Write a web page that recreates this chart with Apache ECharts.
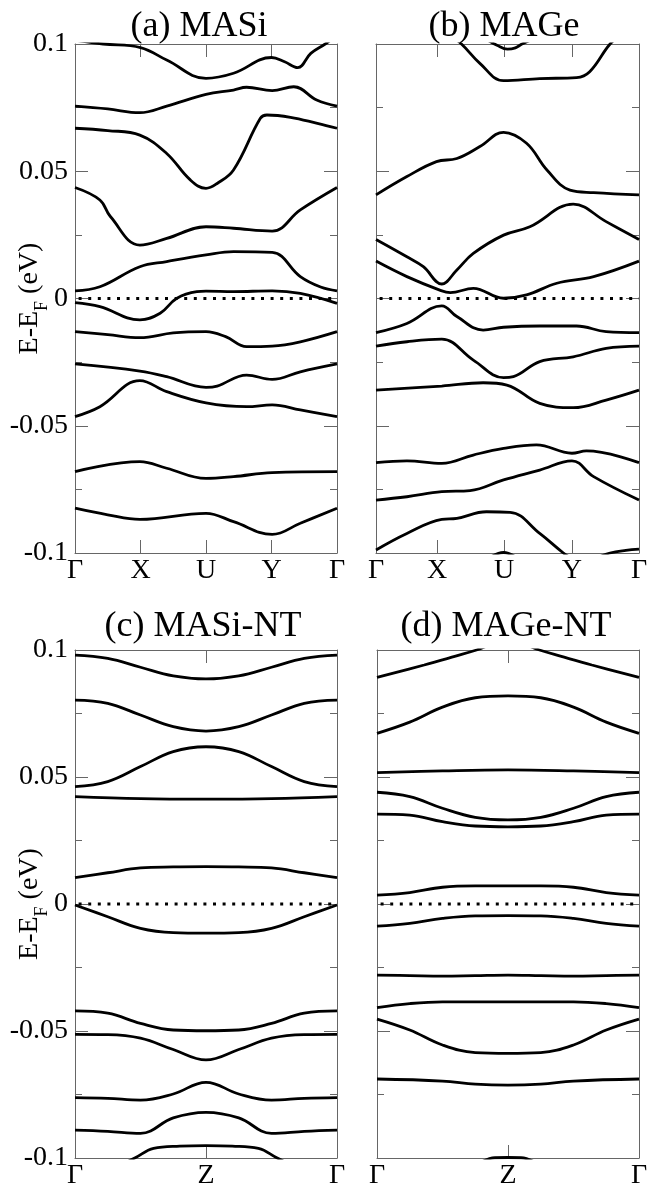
<!DOCTYPE html>
<html>
<head>
<meta charset="utf-8">
<script src="https://cdn.jsdelivr.net/npm/echarts@6/dist/echarts.min.js"></script>
<style>
  html, body { margin: 0; padding: 0; background: #fff; }
  #main { width: 655px; height: 1184px; }
</style>
</head>
<body>
<div id="main"></div>
<script>
// 坐标轴刻度与标签
var ticksA = [0, 1, 2, 3, 4];
var ticksB = [0, 0.93, 1.95, 2.98, 4];
var labelsAB = ['Γ', 'X', 'U', 'Y', 'Γ'];
var ticksNT = [0, 1, 2];
var labelsNT = ['Γ', 'Z', 'Γ'];
var titles = ['(a) MASi', '(b) MAGe', '(c) MASi-NT', '(d) MAGe-NT'];

// (a) MASi 能带
var bandsA = [
    [[0, 0.1015], [0.43, 0.1], [1, 0.0986], [1.4, 0.0937], [2, 0.0865], [2.42, 0.0885], [3, 0.0947], [3.2, 0.093], [3.4, 0.0907], [3.6, 0.0963], [3.82, 0.1], [4, 0.1035]],
    [[0, 0.0756], [0.5, 0.0745], [0.99, 0.073], [1.4, 0.0756], [2, 0.0802], [2.42, 0.0819], [2.62, 0.083], [3.01, 0.0817], [3.34, 0.0832], [3.69, 0.078], [4, 0.0756]],
    [[0, 0.0669], [0.5, 0.066], [0.99, 0.0642], [1.4, 0.057], [1.76, 0.0466], [2, 0.0433], [2.17, 0.0452], [2.42, 0.0505], [2.83, 0.0708], [2.93, 0.0721], [3.29, 0.0712], [3.7, 0.0688], [4, 0.0669]],
    [[0, 0.0436], [0.38, 0.0387], [0.54, 0.0322], [0.99, 0.021], [1.4, 0.0236], [2, 0.0282], [2.42, 0.0276], [3.01, 0.0265], [3.44, 0.0348], [4, 0.0436]],
    [[0, 0.003], [0.38, 0.0046], [0.99, 0.0125], [1.4, 0.0145], [2, 0.0171], [2.42, 0.0184], [3.01, 0.0181], [3.44, 0.0086], [3.75, 0.0045], [4, 0.003]],
    [[0, -0.0016], [0.38, -0.0032], [0.99, -0.0084], [1.3, -0.0058], [1.55, 0], [1.86, 0.0027], [2, 0.0029], [2.42, 0.0027], [3.01, 0.003], [3.44, 0.002], [4, -0.0019]],
    [[0, -0.013], [0.5, -0.0142], [0.99, -0.0154], [1.5, -0.0135], [2, -0.013], [2.3, -0.015], [2.62, -0.0189], [3.01, -0.0187], [3.44, -0.017], [4, -0.013]],
    [[0, -0.0257], [0.99, -0.0285], [1.4, -0.0307], [2, -0.0349], [2.17, -0.0344], [2.62, -0.0301], [3.01, -0.0318], [3.44, -0.0288], [4, -0.0257]],
    [[0, -0.0464], [0.38, -0.0425], [0.99, -0.0323], [1.4, -0.0366], [2, -0.041], [2.62, -0.0425], [3.01, -0.0418], [3.44, -0.0438], [4, -0.0464]],
    [[0, -0.068], [0.99, -0.0641], [1.4, -0.0667], [2, -0.0707], [2.42, -0.07], [3.01, -0.0684], [4, -0.068]],
    [[0, -0.0824], [0.5, -0.085], [0.99, -0.0868], [2, -0.0844], [2.42, -0.0877], [3.01, -0.0927], [3.44, -0.0883], [4, -0.0824]]
];

// (b) MAGe 能带
var bandsB = [
    [[1.1, 0.104], [1.3, 0.1], [1.58, 0.0924], [1.94, 0.0856], [2.49, 0.0864], [3.05, 0.0868], [3.25, 0.0891], [3.56, 0.1], [3.75, 0.104]],
    [[1.7, 0.1015], [1.84, 0.0995], [2.0, 0.098], [2.12, 0.0985], [2.22, 0.1], [2.35, 0.1015]],
    [[0, 0.0407], [0.47, 0.0479], [0.92, 0.0538], [1.23, 0.055], [1.58, 0.0597], [1.94, 0.0653], [2.29, 0.061], [2.6, 0.0505], [2.95, 0.0426], [3.31, 0.0416], [4, 0.0407]],
    [[0, 0.0232], [0.47, 0.0164], [0.72, 0.0125], [1.0, 0.0057], [1.23, 0.0112], [1.48, 0.0177], [1.94, 0.0249], [2.34, 0.0282], [3.0, 0.0371], [3.5, 0.0302], [4, 0.0232]],
    [[0, 0.0147], [0.47, 0.0086], [0.97, 0.0033], [1.13, 0.0023], [1.48, 0.004], [1.94, 0.0001], [2.29, 0.0014], [2.75, 0.006], [3.31, 0.0086], [4, 0.0147]],
    [[0, -0.0134], [0.47, -0.0098], [1.0, -0.0029], [1.23, -0.0071], [1.63, -0.0124], [1.94, -0.0113], [2.49, -0.0108], [3.05, -0.0108], [3.5, -0.013], [4, -0.0134]],
    [[0, -0.0187], [0.47, -0.017], [1.0, -0.016], [1.48, -0.0242], [1.94, -0.0311], [2.09, -0.0307], [2.49, -0.0248], [3.0, -0.0229], [3.5, -0.0196], [4, -0.0187]],
    [[0, -0.036], [1.0, -0.0344], [1.63, -0.0331], [1.99, -0.034], [2.49, -0.0412], [3.0, -0.0429], [3.5, -0.0399], [4, -0.036]],
    [[0, -0.0645], [0.47, -0.0638], [1.0, -0.0648], [1.48, -0.0615], [1.94, -0.0589], [2.44, -0.0575], [2.98, -0.0608], [3.2, -0.0599], [4, -0.0645]],
    [[0, -0.0792], [0.47, -0.0779], [1.0, -0.0759], [1.43, -0.0755], [1.94, -0.0713], [2.49, -0.0674], [2.98, -0.0638], [3.31, -0.07], [4, -0.0792]],
    [[0, -0.0988], [0.47, -0.0923], [1.0, -0.0868], [1.23, -0.0864], [1.68, -0.0838], [2.04, -0.084], [2.49, -0.0923], [2.85, -0.1], [3.0, -0.1025]],
    [[1.75, -0.1015], [1.94, -0.0998], [2.12, -0.1015]],
    [[3.4, -0.1015], [3.56, -0.1], [3.8, -0.099], [4, -0.0985]]
];

// (c) MASi-NT 能带
var bandsC = [
    [[0, 0.098], [0.25, 0.0967], [0.5, 0.0932], [0.75, 0.0898], [1, 0.0886], [1.25, 0.0898], [1.5, 0.0932], [1.75, 0.0967], [2, 0.098]],
    [[0, 0.0803], [0.25, 0.079], [0.5, 0.0744], [0.75, 0.0698], [1, 0.0681], [1.25, 0.0698], [1.5, 0.0744], [1.75, 0.079], [2, 0.0803]],
    [[0, 0.0462], [0.25, 0.0482], [0.5, 0.0541], [0.75, 0.06], [1, 0.0619], [1.25, 0.06], [1.5, 0.0541], [1.75, 0.0482], [2, 0.0462]],
    [[0, 0.0423], [0.5, 0.0415], [1, 0.0413], [1.5, 0.0415], [2, 0.0423]],
    [[0, 0.0104], [0.25, 0.0123], [0.5, 0.0142], [0.75, 0.0146], [1, 0.0147], [1.25, 0.0146], [1.5, 0.0142], [1.75, 0.0123], [2, 0.0104]],
    [[0, -0.0004], [0.25, -0.005], [0.5, -0.0096], [0.75, -0.0113], [1, -0.0115], [1.25, -0.0113], [1.5, -0.0096], [1.75, -0.005], [2, -0.0004]],
    [[0, -0.0421], [0.25, -0.043], [0.5, -0.047], [0.75, -0.0496], [1, -0.0499], [1.25, -0.0496], [1.5, -0.047], [1.75, -0.043], [2, -0.0421]],
    [[0, -0.0513], [0.25, -0.0514], [0.5, -0.0528], [0.75, -0.0573], [1, -0.0614], [1.25, -0.0573], [1.5, -0.0528], [1.75, -0.0514], [2, -0.0513]],
    [[0, -0.0762], [0.25, -0.0765], [0.5, -0.0772], [0.75, -0.0748], [1, -0.0702], [1.25, -0.0748], [1.5, -0.0772], [1.75, -0.0765], [2, -0.0762]],
    [[0, -0.089], [0.25, -0.0895], [0.5, -0.0903], [0.75, -0.0842], [1, -0.082], [1.25, -0.0842], [1.5, -0.0903], [1.75, -0.0895], [2, -0.089]],
    [[0.4, -0.1015], [0.46, -0.0999], [0.6, -0.0962], [0.8, -0.0953], [1, -0.0951], [1.2, -0.0953], [1.4, -0.0962], [1.54, -0.0999], [1.6, -0.1015]]
];

// (d) MAGe-NT 能带
var bandsD = [
    [[0, 0.0892], [0.36, 0.0941], [0.6, 0.0976], [0.76, 0.1], [1, 0.104], [1.24, 0.1], [1.4, 0.0976], [1.64, 0.0941], [2, 0.0892]],
    [[0, 0.0672], [0.25, 0.0716], [0.5, 0.0775], [0.75, 0.0812], [1, 0.0819], [1.25, 0.0812], [1.5, 0.0775], [1.75, 0.0716], [2, 0.0672]],
    [[0, 0.0517], [0.5, 0.0524], [1, 0.0528], [1.5, 0.0524], [2, 0.0517]],
    [[0, 0.044], [0.25, 0.0423], [0.5, 0.0377], [0.75, 0.0341], [1, 0.0331], [1.25, 0.0341], [1.5, 0.0377], [1.75, 0.0423], [2, 0.044]],
    [[0, 0.0354], [0.25, 0.035], [0.5, 0.0324], [0.75, 0.0307], [1, 0.0304], [1.25, 0.0307], [1.5, 0.0324], [1.75, 0.035], [2, 0.0354]],
    [[0, 0.0035], [0.25, 0.0045], [0.5, 0.0066], [0.75, 0.0071], [1, 0.0071], [1.25, 0.0071], [1.5, 0.0066], [1.75, 0.0045], [2, 0.0035]],
    [[0, -0.0087], [0.25, -0.0076], [0.5, -0.0057], [0.75, -0.0047], [1, -0.0046], [1.25, -0.0047], [1.5, -0.0057], [1.75, -0.0076], [2, -0.0087]],
    [[0, -0.028], [0.25, -0.0282], [0.5, -0.0284], [0.75, -0.0282], [1, -0.028], [1.25, -0.0282], [1.5, -0.0284], [1.75, -0.0282], [2, -0.028]],
    [[0, -0.0408], [0.25, -0.0392], [0.5, -0.0385], [1, -0.0385], [1.5, -0.0385], [1.75, -0.0392], [2, -0.0408]],
    [[0, -0.0453], [0.25, -0.0496], [0.5, -0.0555], [0.75, -0.0585], [1, -0.0588], [1.25, -0.0585], [1.5, -0.0555], [1.75, -0.0496], [2, -0.0453]],
    [[0, -0.0689], [0.5, -0.0697], [0.75, -0.0709], [1, -0.0713], [1.25, -0.0709], [1.5, -0.0697], [2, -0.0689]],
    [[0.8, -0.1015], [0.9, -0.0999], [1, -0.0998], [1.1, -0.0999], [1.2, -0.1015]]
];

(function() {
    var FONT = '"Liberation Serif", "Times New Roman", serif';
    var AXIS_COLOR = '#666';
    var myChart = echarts.init(document.getElementById('main'));

    // 每个子图的位置
    var panels = [
        { left: 75, top: 44, width: 262, height: 509, xmax: 4, ticks: ticksA, labels: labelsAB, bands: bandsA, yLabel: true, tx: 199, ty: 9 },
        { left: 376, top: 44, width: 263, height: 509, xmax: 4, ticks: ticksB, labels: labelsAB, bands: bandsB, yLabel: false, tx: 504, ty: 9 },
        { left: 75, top: 650, width: 262, height: 508, xmax: 2, ticks: ticksNT, labels: labelsNT, bands: bandsC, yLabel: true, tx: 203, ty: 609 },
        { left: 377, top: 650, width: 262, height: 508, xmax: 2, ticks: ticksNT, labels: labelsNT, bands: bandsD, yLabel: false, tx: 506, ty: 609 }
    ];

    var grid = [], xAxis = [], yAxis = [], series = [], title = [];

    panels.forEach(function(p, i) {
        grid.push({
            left: p.left, top: p.top, width: p.width, height: p.height,
            containLabel: false, outerBoundsMode: 'none'
        });
        title.push({
            text: titles[i], left: p.tx, top: p.ty, textAlign: 'center', padding: 0,
            textStyle: { fontFamily: FONT, fontSize: 36, fontWeight: 'normal', color: '#000' }
        });
        [false, true].forEach(function(isTop) {
            xAxis.push({
                type: 'value', gridIndex: i, min: 0, max: p.xmax,
                position: isTop ? 'top' : 'bottom',
                axisLine: { show: true, onZero: false, lineStyle: { color: AXIS_COLOR, width: 1 } },
                axisTick: { show: true, inside: true, length: 13, customValues: p.ticks, lineStyle: { color: AXIS_COLOR, width: 1 } },
                axisLabel: {
                    show: !isTop, customValues: p.ticks, margin: 4,
                    fontFamily: FONT, fontSize: 28, color: '#000',
                    formatter: function(v) {
                        var k = p.ticks.indexOf(v);
                        return k >= 0 ? p.labels[k] : '';
                    }
                },
                splitLine: { show: false }
            });
        });
        [false, true].forEach(function(isRight) {
            var showLabel = p.yLabel && !isRight;
            yAxis.push({
                type: 'value', gridIndex: i, min: -0.1, max: 0.1, interval: 0.05,
                position: isRight ? 'right' : 'left',
                name: showLabel ? '{m|E-E}{s|F}{m| (eV)}' : '',
                nameLocation: 'middle', nameGap: 24, nameMoveOverlap: false,
                nameTextStyle: {
                    fontFamily: FONT, color: '#000',
                    rich: {
                        m: { fontFamily: FONT, fontSize: 28, color: '#000' },
                        s: { fontFamily: FONT, fontSize: 18, color: '#000', padding: [24, 0, 0, 0] }
                    }
                },
                axisLine: { show: true, onZero: false, lineStyle: { color: AXIS_COLOR, width: 1 } },
                axisTick: { show: true, inside: true, length: 13, lineStyle: { color: AXIS_COLOR, width: 1 } },
                minorTick: { show: true, splitNumber: 2, length: 7, lineStyle: { color: AXIS_COLOR, width: 1 } },
                axisLabel: { show: showLabel, margin: 7, fontFamily: FONT, fontSize: 28, color: '#000' },
                splitLine: { show: false },
                minorSplitLine: { show: false }
            });
        });
        // 费米能级虚线
        series.push({
            type: 'line', xAxisIndex: 2 * i, yAxisIndex: 2 * i,
            data: [[0, 0], [p.xmax, 0]], showSymbol: false, silent: true,
            lineStyle: { color: '#000', width: 3, type: [3, 6.6], dashOffset: 6 }
        });
        p.bands.forEach(function(b) {
            series.push({
                type: 'line', xAxisIndex: 2 * i, yAxisIndex: 2 * i,
                data: b, showSymbol: false, silent: true,
                smooth: 0.4,
                lineStyle: { color: '#000', width: 2.8 }
            });
        });
    });

    var option = {
        backgroundColor: '#fff',
        animation: false,
        title: title,
        grid: grid,
        xAxis: xAxis,
        yAxis: yAxis,
        series: series
    };
    myChart.setOption(option);
    window.addEventListener('resize', function() {
        myChart.resize();
    });
})();
</script>
</body>
</html>
